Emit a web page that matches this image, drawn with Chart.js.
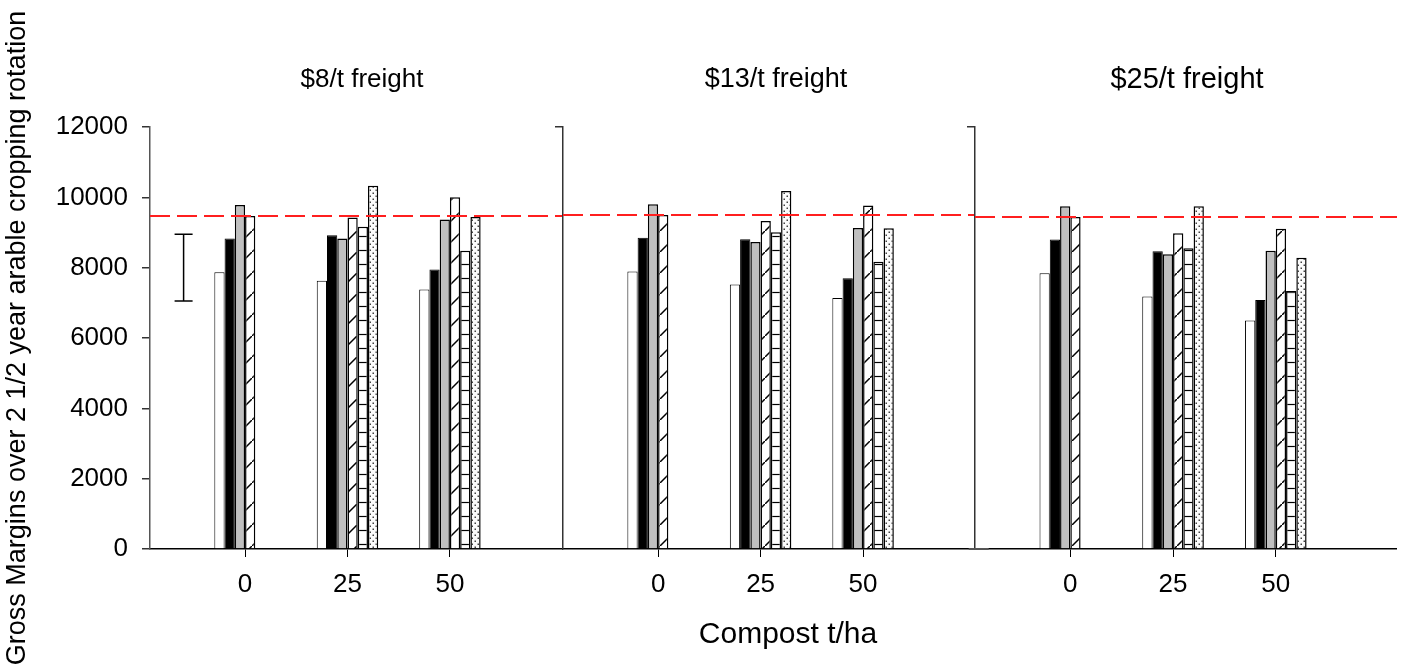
<!DOCTYPE html>
<html>
<head>
<meta charset="utf-8">
<script src="https://cdn.jsdelivr.net/npm/chart.js@4.4.1/dist/chart.umd.min.js"></script>
<style>
  body{ margin:0; background:#fff; width:1405px; height:666px; overflow:hidden; position:relative;
        font-family:"Liberation Sans", Arial, sans-serif; }
  canvas{ position:absolute; top:0; }
  .lbl{ position:absolute; white-space:nowrap; transform:translateX(-50%); font-size:26px; line-height:30px; color:#000; }
</style>
</head>
<body>
<canvas id="c0" width="563" height="666" style="left:0px"></canvas>
<canvas id="c1" width="420" height="666" style="left:555px"></canvas>
<canvas id="c2" width="430" height="666" style="left:967px"></canvas>

<script>
// ---------- data ----------
const compost = [0, 25, 50];
const panelTitles = ["$8/t freight", "$13/t freight", "$25/t freight"];
const yTitle = "Gross Margins over 2 1/2 year arable cropping rotation";
const xTitle = "Compost t/ha";
const yTicks = [0, 2000, 4000, 6000, 8000, 10000, 12000];

// one row per panel ($8, $13, $25), one value per compost rate
const white    = [[7870, 7630, 7380], [7890, 7520, 7140], [7840, 7180, 6500]];
const black    = [[8830, 8920, 7950], [8850, 8810, 7700], [8800, 8470, 7080]];
const grey     = [[9780, 8830, 9370], [9800, 8730, 9130], [9750, 8380, 8480]];
const diagonal = [[9470, 9430, 10000], [9500, 9330, 9770], [9440, 8980, 9110]];
const ladder   = [[null, 9160, 8480], [null, 9010, 8170], [null, 8550, 7340]];
const dotted   = [[null, 10330, 9440], [null, 10180, 9120], [null, 9750, 8280]];
const baseline = [9470, 9500, 9440];

// LSD bar on the first panel, small zero mark on the third
const errX  = [-15, null, -22.3];
const errLo = [7050, null, 0];
const errHi = [8950, null, 0];

const FONT = "'Liberation Sans', Arial, sans-serif";

// ---------- fill patterns ----------
function tile(w, h, draw){
  const c = document.createElement("canvas");
  c.width = w; c.height = h;
  const t = c.getContext("2d");
  draw(t, w, h);
  return c;
}
const diagTile = tile(21, 21, (t, w, h) => {
  t.fillStyle = "#fff"; t.fillRect(0, 0, w, h);
  t.strokeStyle = "#000"; t.lineWidth = 1.5;
  t.beginPath();
  t.moveTo(-2, h + 2); t.lineTo(w + 2, -2);
  t.stroke();
});
const ladderTile = tile(8, 14, (t, w, h) => {
  t.fillStyle = "#fff"; t.fillRect(0, 0, w, h);
  t.strokeStyle = "#000"; t.lineWidth = 1.2;
  t.beginPath(); t.moveTo(0, h - 1.5); t.lineTo(w, h - 1.5); t.stroke();
});
const dotTile = tile(6, 6, (t, w, h) => {
  t.fillStyle = "#fbfbfb"; t.fillRect(0, 0, w, h);
  t.fillStyle = "#444";
  t.fillRect(0.5, 0.5, 1.5, 1.5);
  t.fillRect(3.5, 3.5, 1.5, 1.5);
});

// ---------- error bar plugin ----------
const errBarPlugin = {
  id: "errBar",
  afterDatasetsDraw(chart, args, opts){
    if(opts.x == null) return;
    const { ctx, scales:{ x, y } } = chart;
    const px = x.getPixelForValue(opts.x);
    const lo = y.getPixelForValue(opts.lo);
    const hi = y.getPixelForValue(opts.hi);
    ctx.save();
    ctx.strokeStyle = opts.color || "#000";
    ctx.lineWidth = opts.width || 1.5;
    ctx.beginPath();
    ctx.moveTo(px, lo); ctx.lineTo(px, hi);
    ctx.moveTo(px - opts.cap, lo); ctx.lineTo(px + opts.cap, lo);
    ctx.moveTo(px - opts.cap, hi); ctx.lineTo(px + opts.cap, hi);
    ctx.stroke();
    ctx.restore();
  }
};

function pts(row){
  return compost.map((c, j) => ({ x: c, y: row[j] }));
}

function makePanel(i, xMax){
  const canvas = document.getElementById("c" + i);
  const ctx = canvas.getContext("2d");
  const first = i === 0;

  const barStyle = (fill, bw) => ({
    type: "bar",
    backgroundColor: fill,
    borderColor: "#000",
    borderWidth: bw,
    barPercentage: 1,
    categoryPercentage: 0.6,
    order: 1
  });

  const datasets = [
    {
      type: "line",
      data: [{ x: -23.2, y: baseline[i] }, { x: xMax, y: baseline[i] }],
      borderColor: "#ff1f1f",
      borderWidth: 2,
      borderDash: [20, 7],
      pointRadius: 0,
      order: 0
    },
    { ...barStyle("#ffffff", 1), data: pts(white[i]) },
    { ...barStyle("#000000", 1), data: pts(black[i]) },
    { ...barStyle("#c0c0c0", 1.5), data: pts(grey[i]) },
    { ...barStyle(ctx.createPattern(diagTile, "repeat"), 1.5), data: pts(diagonal[i]) },
    { ...barStyle(ctx.createPattern(ladderTile, "repeat"), 1.5), data: pts(ladder[i]) },
    { ...barStyle(ctx.createPattern(dotTile, "repeat"), 1.5), data: pts(dotted[i]) }
  ];

  return new Chart(canvas, {
    type: "bar",
    data: { datasets },
    plugins: [errBarPlugin],
    options: {
      responsive: false,
      animation: false,
      layout: { padding: { top: 127, right: 0, left: 0, bottom: 0 } },
      plugins: {
        legend: { display: false },
        title: { display: false },
        tooltip: { enabled: false },
        errBar: { x: errX[i], lo: errLo[i], hi: errHi[i], cap: first ? 9 : 10, color: first ? "#000" : "#555", width: first ? 1.5 : 2 }
      },
      scales: {
        x: {
          type: "linear",
          min: -23.2,
          max: xMax,
          offset: false,
          afterBuildTicks: s => { s.ticks = compost.map(v => ({ value: v })); },
          afterFit: s => { s.height = 117; },
          grid: { drawOnChartArea: false, drawTicks: true, tickLength: 8, color: "#000", lineWidth: 1, offset: false },
          border: { display: true, color: "#000", width: 1.5 },
          ticks: { color: "#000", font: { family: FONT, size: 26 }, padding: 12, maxRotation: 0, autoSkip: false,
                   callback: v => String(v) }
        },
        y: {
          min: 0,
          max: 12000,
          afterBuildTicks: s => { s.ticks = yTicks.map(v => ({ value: v })); },
          afterFit: s => { s.width = first ? 150 : 8; },
          grid: {
            drawOnChartArea: false, drawTicks: true, tickLength: 8, lineWidth: 1.5,
            color: c => (first || (c.tick && c.tick.value === 12000)) ? "#333" : "rgba(0,0,0,0)"
          },
          border: { display: true, color: first ? "#555" : "#333", width: 1.5 },
          ticks: { display: first, color: "#000", font: { family: FONT, size: 26 }, padding: 14,
                   callback: v => String(v) },
          title: { display: first, text: yTitle, color: "#000", font: { family: FONT, size: 27 },
                   padding: { top: 1, bottom: 0 } }
        }
      }
    }
  });
}

makePanel(0, 77.6);
makePanel(1, 77.3);
makePanel(2, 79.5);

// titles and shared x title
const titleX = [362, 776, 1187];
const titleSize = [26, 27, 29];
panelTitles.forEach((t, i) => {
  const d = document.createElement("div");
  d.className = "lbl";
  d.style.left = titleX[i] + "px";
  d.style.top = "63px";
  d.style.fontSize = titleSize[i] + "px";
  d.textContent = t;
  document.body.appendChild(d);
});
const xt = document.createElement("div");
xt.className = "lbl";
xt.style.left = "788px";
xt.style.top = "618px";
xt.style.fontSize = "30px";
xt.textContent = xTitle;
document.body.appendChild(xt);
</script>
</body>
</html>
